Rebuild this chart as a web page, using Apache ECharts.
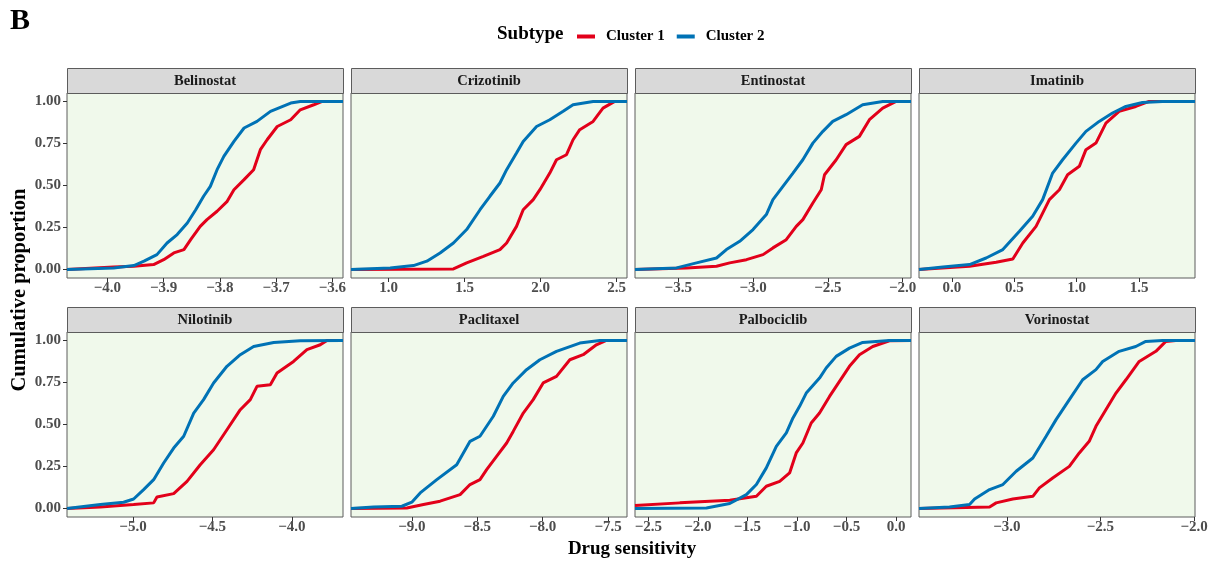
<!DOCTYPE html>
<html>
<head>
<meta charset="utf-8">
<script src="https://cdn.jsdelivr.net/npm/echarts@6/dist/echarts.min.js"></script>
<style>
html, body { margin: 0; padding: 0; background: #fff; }
#chart { width: 1219px; height: 562px; }
</style>
</head>
<body>
<div id="chart"></div>
<script>
// panels, axis limits and ticks
const drugs = ["Belinostat", "Crizotinib", "Entinostat", "Imatinib",
               "Nilotinib", "Paclitaxel", "Palbociclib", "Vorinostat"];
const xLimits = [[-4.072, -3.581], [0.753, 2.569], [-3.789, -1.944], [-0.264, 1.948],
                 [-5.415, -3.679], [-9.465, -7.355], [-2.634, 0.151], [-3.469, -1.995]];
const xTicks = [[-4.0, -3.9, -3.8, -3.7, -3.6], [1.0, 1.5, 2.0, 2.5], [-3.5, -3.0, -2.5, -2.0],
                [0.0, 0.5, 1.0, 1.5], [-5.0, -4.5, -4.0], [-9.0, -8.5, -8.0, -7.5],
                [-2.5, -2.0, -1.5, -1.0, -0.5, 0.0], [-3.0, -2.5, -2.0]];
const yTicks = [0, 0.25, 0.5, 0.75, 1];

// cumulative proportion curves [drug sensitivity, proportion]
const belinostat1 = [[-4.072,0],[-3.989,0.016],[-3.953,0.02],[-3.918,0.03],[-3.900,0.059],[-3.882,0.099],[-3.864,0.119],[-3.852,0.178],[-3.835,0.257],[-3.823,0.297],[-3.805,0.347],[-3.787,0.406],[-3.775,0.475],[-3.757,0.535],[-3.740,0.594],[-3.728,0.713],[-3.716,0.772],[-3.698,0.851],[-3.674,0.891],[-3.657,0.95],[-3.633,0.98],[-3.618,1],[-3.581,1]];
const belinostat2 = [[-4.072,0],[-3.989,0.01],[-3.953,0.024],[-3.935,0.05],[-3.912,0.089],[-3.894,0.158],[-3.876,0.208],[-3.858,0.277],[-3.843,0.356],[-3.829,0.436],[-3.817,0.495],[-3.805,0.594],[-3.793,0.673],[-3.775,0.762],[-3.757,0.842],[-3.734,0.881],[-3.710,0.941],[-3.674,0.99],[-3.657,1],[-3.581,1]];
const crizotinib1 = [[0.753,0],[1.427,0.004],[1.514,0.04],[1.624,0.079],[1.733,0.119],[1.777,0.158],[1.842,0.257],[1.886,0.356],[1.952,0.416],[1.996,0.475],[2.061,0.574],[2.105,0.653],[2.171,0.683],[2.214,0.772],[2.258,0.832],[2.346,0.881],[2.411,0.96],[2.488,1],[2.569,1]];
const crizotinib2 = [[0.753,0],[1.011,0.01],[1.164,0.024],[1.252,0.05],[1.339,0.099],[1.427,0.158],[1.514,0.238],[1.602,0.356],[1.667,0.436],[1.733,0.515],[1.777,0.594],[1.842,0.693],[1.886,0.762],[1.974,0.851],[2.061,0.891],[2.149,0.941],[2.214,0.98],[2.346,1],[2.569,1]];
const entinostat1 = [[-3.789,0],[-3.444,0.01],[-3.244,0.02],[-3.156,0.04],[-3.044,0.059],[-2.933,0.089],[-2.867,0.129],[-2.778,0.178],[-2.711,0.257],[-2.667,0.297],[-2.6,0.396],[-2.544,0.475],[-2.522,0.564],[-2.444,0.653],[-2.378,0.743],[-2.289,0.792],[-2.222,0.891],[-2.133,0.96],[-2.044,1],[-1.944,1]];
const entinostat2 = [[-3.789,0],[-3.511,0.01],[-3.378,0.04],[-3.244,0.069],[-3.178,0.119],[-3.089,0.168],[-3.0,0.238],[-2.911,0.327],[-2.867,0.416],[-2.8,0.495],[-2.733,0.574],[-2.667,0.653],[-2.6,0.752],[-2.533,0.822],[-2.467,0.881],[-2.378,0.921],[-2.267,0.98],[-2.133,1],[-1.944,1]];
const imatinib1 = [[-0.264,0],[0.141,0.02],[0.354,0.044],[0.488,0.063],[0.568,0.158],[0.674,0.257],[0.781,0.416],[0.861,0.475],[0.927,0.564],[1.021,0.614],[1.074,0.713],[1.154,0.752],[1.234,0.871],[1.34,0.941],[1.474,0.97],[1.58,1],[1.948,1]];
const imatinib2 = [[-0.264,0],[-0.072,0.016],[0.141,0.03],[0.274,0.069],[0.408,0.119],[0.541,0.228],[0.647,0.317],[0.727,0.416],[0.807,0.574],[0.887,0.653],[0.994,0.752],[1.074,0.822],[1.18,0.881],[1.287,0.931],[1.394,0.97],[1.527,0.994],[1.687,1],[1.948,1]];
const nilotinib1 = [[-5.415,0],[-5.205,0.01],[-4.996,0.024],[-4.87,0.034],[-4.849,0.069],[-4.744,0.089],[-4.66,0.162],[-4.577,0.261],[-4.493,0.35],[-4.409,0.469],[-4.325,0.588],[-4.262,0.648],[-4.22,0.727],[-4.136,0.737],[-4.094,0.806],[-3.99,0.875],[-3.906,0.945],[-3.822,0.974],[-3.78,1],[-3.679,1]];
const nilotinib2 = [[-5.415,0],[-5.205,0.024],[-5.059,0.038],[-4.996,0.057],[-4.933,0.113],[-4.87,0.172],[-4.807,0.271],[-4.744,0.36],[-4.681,0.43],[-4.618,0.568],[-4.556,0.648],[-4.493,0.747],[-4.409,0.846],[-4.325,0.915],[-4.241,0.964],[-4.115,0.988],[-3.948,0.998],[-3.679,1]];
const paclitaxel1 = [[-9.465,0],[-9.038,0.004],[-8.911,0.024],[-8.784,0.044],[-8.631,0.083],[-8.555,0.143],[-8.479,0.172],[-8.428,0.232],[-8.352,0.311],[-8.275,0.39],[-8.225,0.459],[-8.148,0.568],[-8.072,0.648],[-7.996,0.747],[-7.894,0.786],[-7.792,0.885],[-7.69,0.915],[-7.589,0.974],[-7.513,1],[-7.355,1]];
const paclitaxel2 = [[-9.465,0],[-9.292,0.01],[-9.076,0.014],[-9.0,0.038],[-8.936,0.093],[-8.809,0.172],[-8.657,0.261],[-8.555,0.4],[-8.479,0.43],[-8.377,0.549],[-8.301,0.667],[-8.225,0.747],[-8.123,0.826],[-8.021,0.885],[-7.894,0.935],[-7.716,0.984],[-7.563,1],[-7.355,1]];
const palbociclib1 = [[-2.634,0.018],[-2.181,0.034],[-1.678,0.05],[-1.409,0.073],[-1.309,0.133],[-1.174,0.162],[-1.074,0.212],[-1.007,0.331],[-0.94,0.39],[-0.856,0.509],[-0.772,0.568],[-0.671,0.667],[-0.604,0.727],[-0.47,0.846],[-0.369,0.915],[-0.235,0.964],[-0.067,0.998],[0.151,1]];
const palbociclib2 = [[-2.634,0],[-1.913,0.004],[-1.678,0.03],[-1.51,0.083],[-1.409,0.143],[-1.309,0.242],[-1.208,0.37],[-1.107,0.45],[-1.04,0.539],[-0.973,0.608],[-0.906,0.687],[-0.772,0.776],[-0.705,0.836],[-0.604,0.905],[-0.47,0.954],[-0.336,0.988],[-0.067,1],[0.151,1]];
const vorinostat1 = [[-3.469,0],[-3.092,0.01],[-3.057,0.034],[-2.968,0.057],[-2.861,0.073],[-2.826,0.123],[-2.755,0.182],[-2.666,0.251],[-2.613,0.331],[-2.56,0.4],[-2.524,0.489],[-2.471,0.588],[-2.417,0.687],[-2.364,0.766],[-2.293,0.875],[-2.204,0.935],[-2.151,0.994],[-2.098,1],[-1.995,1]];
const vorinostat2 = [[-3.469,0],[-3.306,0.01],[-3.199,0.024],[-3.172,0.057],[-3.092,0.113],[-3.021,0.143],[-2.95,0.222],[-2.861,0.301],[-2.79,0.43],[-2.737,0.529],[-2.666,0.648],[-2.595,0.766],[-2.524,0.826],[-2.488,0.875],[-2.4,0.935],[-2.311,0.964],[-2.258,0.994],[-2.169,1],[-1.995,1]];

const cluster1 = [belinostat1, crizotinib1, entinostat1, imatinib1, nilotinib1, paclitaxel1, palbociclib1, vorinostat1];
const cluster2 = [belinostat2, crizotinib2, entinostat2, imatinib2, nilotinib2, paclitaxel2, palbociclib2, vorinostat2];

const red = "#E2001A";
const blue = "#0072B5";
const serif = "'Liberation Serif', 'DejaVu Serif', serif";

// layout
const colLeft = [67, 351, 635, 919];
const rowTop = [93, 332];
const panelW = 276, panelH = 185, stripH = 25;

let grid = [], xAxis = [], yAxis = [], series = [], graphic = [];

drugs.forEach((d, i) => {
  let r = Math.floor(i / 4), c = i % 4;
  grid.push({
    left: colLeft[c], top: rowTop[r], width: panelW, height: panelH,
    show: true, backgroundColor: "#F0F9EB", borderColor: "#5c5c5c", borderWidth: 1
  });
  xAxis.push({
    type: "value", gridIndex: i, min: xLimits[i][0], max: xLimits[i][1],
    axisLine: { show: false, onZero: false }, splitLine: { show: false },
    axisTick: { show: true, length: 4, lineStyle: { color: "#333" }, customValues: xTicks[i] },
    axisLabel: {
      customValues: xTicks[i], margin: 3, color: "#4D4D4D", fontFamily: serif,
      fontWeight: "bold", fontSize: 15,
      formatter: (v) => (v < -1e-9 ? "\u2212" : "") + Math.abs(v).toFixed(1)
    }
  });
  yAxis.push({
    type: "value", gridIndex: i, min: -0.05, max: 1.05,
    axisLine: { show: false, onZero: false }, splitLine: { show: false },
    axisTick: { show: c == 0, length: 4, lineStyle: { color: "#333" }, customValues: yTicks },
    axisLabel: {
      show: c == 0, customValues: yTicks, margin: 6, color: "#4D4D4D", fontFamily: serif,
      fontWeight: "bold", fontSize: 15, formatter: (v) => v.toFixed(2)
    }
  });
  series.push({
    type: "line", name: "Cluster 1", xAxisIndex: i, yAxisIndex: i, data: cluster1[i],
    showSymbol: false, lineStyle: { width: 3, color: red }, itemStyle: { color: red }
  });
  series.push({
    type: "line", name: "Cluster 2", xAxisIndex: i, yAxisIndex: i, data: cluster2[i],
    showSymbol: false, lineStyle: { width: 3, color: blue }, itemStyle: { color: blue }
  });
  // facet strip
  graphic.push({
    type: "rect",
    shape: { x: colLeft[c] + 0.5, y: rowTop[r] - stripH + 0.5, width: panelW, height: stripH },
    style: { fill: "#D9D9D9", stroke: "#5c5c5c", lineWidth: 1 }
  });
  graphic.push({
    type: "text", x: colLeft[c] + panelW / 2, y: rowTop[r] - stripH / 2 + 1,
    style: { text: d, align: "center", verticalAlign: "middle", fill: "#1A1A1A",
             font: "bold 14.5px " + serif }
  });
});

graphic.push(
  { type: "text", x: 10, y: 6, style: { text: "B", font: "bold 30px " + serif, fill: "#000" } },
  { type: "text", x: 497, y: 34, style: { text: "Subtype", verticalAlign: "middle", font: "bold 19px " + serif, fill: "#000" } },
  { type: "text", x: 632, y: 549, style: { text: "Drug sensitivity", align: "center", verticalAlign: "middle", font: "bold 19px " + serif, fill: "#000" } },
  { type: "text", x: 20, y: 290, rotation: Math.PI / 2,
    style: { text: "Cumulative proportion", align: "center", verticalAlign: "middle", font: "bold 20.5px " + serif, fill: "#000" } }
);

const chart = echarts.init(document.getElementById("chart"));
chart.setOption({
  animation: false,
  backgroundColor: "#fff",
  legend: {
    data: ["Cluster 1", "Cluster 2"], left: 572, top: 24, icon: "rect",
    itemWidth: 18, itemHeight: 4, itemGap: 12,
    textStyle: { fontFamily: serif, fontWeight: "bold", fontSize: 15, color: "#000", padding: [0, 0, 0, 6] }
  },
  grid, xAxis, yAxis, series, graphic
});
</script>
</body>
</html>
